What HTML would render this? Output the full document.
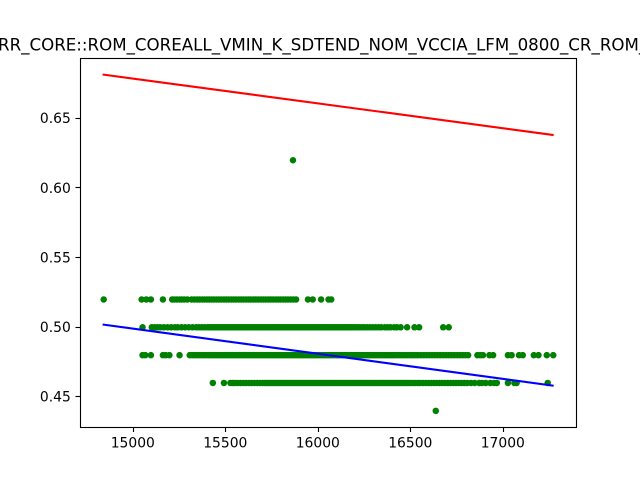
<!DOCTYPE html>
<html>
<head>
<meta charset="utf-8">
<title>Scatter chart</title>
<style>
html,body{margin:0;padding:0;background:#fff;width:640px;height:480px;overflow:hidden}
svg{display:block}
text{font-family:"DejaVu Sans","Liberation Sans",sans-serif;fill:#000}
</style>
</head>
<body>
<svg id="chart" width="640" height="480" viewBox="0 0 640 480">
  <rect x="0" y="0" width="640" height="480" fill="#fff"/>
  <text x="-2" y="50.5" font-size="16.67">RR_CORE::ROM_COREALL_VMIN_K_SDTEND_NOM_VCCIA_LFM_0800_CR_ROM_</text>
  <g id="points"></g>
  <g id="lines"></g>
  <g id="axes"></g>
  <rect x="80.5" y="58.5" width="496" height="369" fill="none" stroke="#000" stroke-width="1.1"/>
</svg>
<script>
const xTicks = [15000, 15500, 16000, 16500, 17000];
const yTicks = [0.45, 0.50, 0.55, 0.60, 0.65];
const yTickLabels = ['0.45', '0.50', '0.55', '0.60', '0.65'];

const outlierX = [15863, 16635];
const outlierY = [0.62, 0.44];

const level052 = 0.52;
const x052 = [14840,15045,15070,15095,15160,15210,15222,15235,15250,15262,15275,15292,15315,15330,15345,15358,15372,15385,15398,15410,15423,15436,15450,15463,15476,15490,15503,15516,15530,15543,15556,15570,15583,15596,15610,15623,15636,15650,15663,15676,15690,15703,15716,15730,15743,15756,15770,15783,15796,15810,15823,15836,15850,15865,15880,15944,15970,16015,16055,16070];

const level050 = 0.50;
const x050 = [15050,15100,15115,15130,15145,15165,15185,15205,15225,15240,15260,15280,15300,15320,15340,15355,15370,15385,15400,15410,15420,15430,15440,15450,15460,15470,15480,15490,15500,15510,15520,15530,15540,15550,15560,15570,15580,15590,15600,15610,15620,15630,15640,15650,15660,15670,15680,15690,15700,15710,15720,15730,15740,15750,15760,15770,15780,15790,15800,15810,15820,15830,15840,15850,15860,15870,15880,15890,15900,15910,15920,15930,15940,15950,15960,15970,15980,15990,16000,16010,16020,16030,16040,16050,16060,16070,16080,16090,16100,16110,16120,16130,16140,16150,16160,16170,16180,16190,16200,16212,16225,16238,16250,16265,16280,16295,16310,16325,16340,16360,16375,16390,16410,16425,16445,16480,16520,16545,16675,16705];

const level048 = 0.48;
const x048 = [15050,15065,15095,15160,15175,15195,15250,15305,15318,15330,15342,15355,15368,15380,15392,15405,15415,15425,15435,15445,15455,15465,15475,15485,15495,15505,15515,15525,15535,15545,15555,15565,15575,15585,15595,15605,15615,15625,15635,15645,15655,15665,15675,15685,15695,15705,15715,15725,15735,15745,15755,15765,15775,15785,15795,15805,15815,15825,15835,15845,15855,15865,15875,15885,15895,15905,15915,15925,15935,15945,15955,15965,15975,15985,15995,16005,16015,16025,16035,16045,16055,16065,16075,16085,16095,16105,16115,16125,16135,16145,16155,16165,16175,16185,16195,16205,16215,16225,16235,16245,16255,16265,16275,16285,16295,16305,16315,16325,16335,16345,16355,16365,16375,16385,16395,16405,16415,16428,16440,16452,16465,16478,16490,16503,16515,16528,16540,16555,16570,16585,16600,16615,16630,16645,16660,16675,16690,16705,16720,16735,16750,16765,16780,16795,16810,16860,16875,16890,16925,16945,17025,17045,17085,17105,17165,17190,17235,17270];

const level046 = 0.46;
const x046 = [15430,15490,15525,15538,15550,15565,15580,15595,15610,15625,15640,15655,15670,15685,15700,15710,15720,15730,15740,15750,15760,15770,15780,15790,15800,15810,15820,15830,15840,15850,15860,15870,15880,15890,15900,15910,15920,15930,15940,15950,15960,15970,15980,15990,16000,16010,16020,16030,16040,16050,16060,16070,16080,16090,16100,16110,16120,16130,16140,16150,16160,16170,16180,16190,16200,16210,16220,16230,16240,16250,16260,16270,16280,16290,16300,16310,16320,16330,16340,16350,16360,16370,16380,16390,16400,16410,16420,16430,16440,16450,16460,16470,16480,16490,16500,16512,16525,16538,16550,16565,16580,16595,16610,16625,16640,16655,16670,16685,16700,16715,16730,16745,16760,16775,16790,16805,16825,16845,16870,16885,16905,16930,16950,16965,17025,17060,17072,17240];

const redLineX = [14834, 17272];
const redLineY = [0.6814, 0.6379];
const blueLineX = [14834, 17272];
const blueLineY = [0.5018, 0.4578];

const NS = 'http://www.w3.org/2000/svg';
const sx = v => 133.3 + (v - 15000) * 0.185;
const sy = v => 327 - (v - 0.5) * 1392;
const snap = p => Math.floor(p) + 0.5;
const pointsG = document.getElementById('points');
const linesG = document.getElementById('lines');
const axesG = document.getElementById('axes');

function addPoint(x, y) {
  const c = document.createElementNS(NS, 'circle');
  c.setAttribute('cx', sx(x));
  c.setAttribute('cy', sy(y) + 0.3);
  c.setAttribute('r', 3.25);
  c.setAttribute('fill', '#008000');
  
  
  pointsG.appendChild(c);
}
x052.forEach(x => addPoint(x, level052));
x050.forEach(x => addPoint(x, level050));
x048.forEach(x => addPoint(x, level048));
x046.forEach(x => addPoint(x, level046));
outlierX.forEach((x, i) => addPoint(x, outlierY[i]));

function addLine(xs, ys, color, name) {
  const l = document.createElementNS(NS, 'line');
  l.setAttribute('x1', sx(xs[0]));
  l.setAttribute('y1', sy(ys[0]));
  l.setAttribute('x2', sx(xs[1]));
  l.setAttribute('y2', sy(ys[1]));
  l.setAttribute('stroke', color);
  l.setAttribute('stroke-width', 2.1);
  
  
  linesG.appendChild(l);
}
addLine(redLineX, redLineY, '#ff0000', 'red-fit-line');
addLine(blueLineX, blueLineY, '#0000ff', 'blue-fit-line');

xTicks.forEach(v => {
  const t = document.createElementNS(NS, 'line');
  t.setAttribute('x1', snap(sx(v)));
  t.setAttribute('x2', snap(sx(v)));
  t.setAttribute('y1', 427);
  t.setAttribute('y2', 432);
  t.setAttribute('stroke', '#000');
  t.setAttribute('stroke-width', 1.1);
  
  
  axesG.appendChild(t);
  const s = document.createElementNS(NS, 'text');
  s.setAttribute('x', sx(v) - 0.5);
  s.setAttribute('y', 447.5);
  s.setAttribute('font-size', 13.89);
  s.setAttribute('text-anchor', 'middle');
  
  
  s.textContent = String(v);
  axesG.appendChild(s);
});
yTicks.forEach((v, i) => {
  const t = document.createElementNS(NS, 'line');
  t.setAttribute('x1', 75.5);
  t.setAttribute('x2', 80.5);
  t.setAttribute('y1', snap(sy(v)));
  t.setAttribute('y2', snap(sy(v)));
  t.setAttribute('stroke', '#000');
  t.setAttribute('stroke-width', 1.1);
  
  
  axesG.appendChild(t);
  const s = document.createElementNS(NS, 'text');
  s.setAttribute('x', 70.8);
  s.setAttribute('y', sy(v) + 5);
  s.setAttribute('font-size', 13.89);
  s.setAttribute('text-anchor', 'end');
  
  
  s.textContent = yTickLabels[i];
  axesG.appendChild(s);
});
</script>
</body>
</html>
